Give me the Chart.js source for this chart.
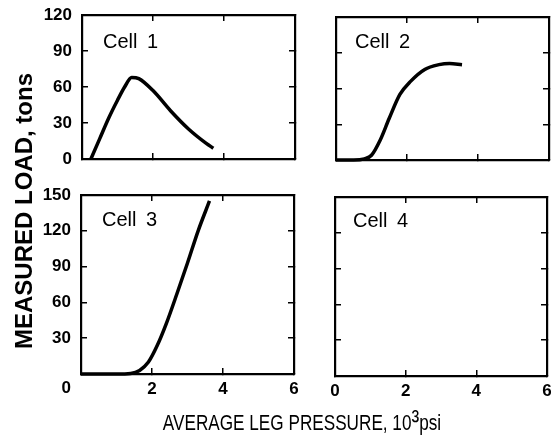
<!DOCTYPE html>
<html><head><meta charset="utf-8">
<script src="https://cdn.jsdelivr.net/npm/chart.js@4.4.1/dist/chart.umd.min.js"></script>
<style>
html,body{margin:0;padding:0;background:#fff;}
#wrap{position:relative;width:551px;height:437px;overflow:hidden;background:#fff;font-family:"Liberation Sans",Arial,sans-serif;color:#000;}
canvas{position:absolute;}
.cell{position:absolute;font-size:20px;line-height:20px;white-space:nowrap;word-spacing:4px;}
#ytitle{position:absolute;left:-126px;top:199px;width:300px;height:24px;line-height:24px;font-size:24px;font-weight:bold;text-align:center;white-space:nowrap;transform:rotate(-90deg);}
#xtitle{position:absolute;left:122px;top:407px;width:360px;height:26px;line-height:26px;font-size:22px;text-align:center;white-space:nowrap;transform:scaleX(0.78);}
#xtitle .sup{font-size:1.35em;}
</style></head><body>
<div id="wrap">
  <canvas id="c1" width="280" height="175" style="left:30px;top:0px"></canvas>
  <canvas id="c2" width="239" height="175" style="left:312px;top:0px"></canvas>
  <canvas id="c3" width="280" height="232" style="left:30px;top:178px"></canvas>
  <canvas id="c4" width="239" height="232" style="left:312px;top:178px"></canvas>
  <div class="cell" style="left:103px;top:31px">Cell 1</div>
  <div class="cell" style="left:355px;top:31px">Cell 2</div>
  <div class="cell" style="left:102px;top:209px">Cell 3</div>
  <div class="cell" style="left:353px;top:210px">Cell 4</div>
  <div id="ytitle">MEASURED LOAD, tons</div>
  <div id="xtitle">AVERAGE LEG PRESSURE, 10<span class="sup">³</span>psi</div>
</div>
<script>
// ---- data ----
const pressureTicks = [0, 2, 4, 6];
const loadTicksUpper = [0, 30, 60, 90, 120];
const loadTicksLower = [0, 30, 60, 90, 120, 150];

const cell1Pressure = [0.25, 0.5, 0.75, 1.0, 1.2, 1.4, 1.6, 2.0, 2.5, 3.0, 3.5, 3.7];
const cell1Load     = [0,    17,  34,   49,  60,  68,  67,  57,  40,  25,  13,  9];

const cell2Pressure = [0, 0.5, 0.8, 1.0, 1.25, 1.5, 1.8, 2.1, 2.5, 2.9, 3.2, 3.55];
const cell2Load     = [0, 0,   1,   4,   17,   35,  55,  66,  76,  80,  81,  80];

const cell3Pressure = [0, 1.0, 1.4, 1.65, 1.9, 2.15, 2.4, 2.7, 3.0, 3.3, 3.62];
const cell3Load     = [0, 0,   0.5, 3,    10,  24,   42,  67,  93,  120, 145];

const cell4Pressure = [];
const cell4Load     = [];

// ---- helpers ----
const FONT = {family: '"Liberation Sans", Arial, sans-serif', size: 17, weight: 'bold'};

function pts(xs, ys) { return xs.map((x, i) => ({x: x, y: ys[i]})); }

function zeroPad(s) { s.paddingTop = 0; s.paddingBottom = 0; s.paddingLeft = 0; s.paddingRight = 0; }

function makePanel(id, o) {
  const yTickList = o.yTicks;
  const yMax = yTickList[yTickList.length - 1];
  const gridCommon = {display: true, drawOnChartArea: false, drawTicks: true, tickLength: -6, color: '#000', lineWidth: 1.5};
  const borderCommon = {display: true, color: '#000', width: 2.2};
  new Chart(document.getElementById(id), {
    type: 'line',
    data: {datasets: [{
      data: pts(o.xs, o.ys),
      borderColor: '#000', borderWidth: 3.5, pointRadius: 0,
      cubicInterpolationMode: 'monotone', fill: false, clip: false
    }]},
    options: {
      responsive: false, animation: false, devicePixelRatio: 1,
      layout: {autoPadding: false, padding: {top: o.padTop, right: o.padRight, left: 0, bottom: 0}},
      plugins: {legend: {display: false}, tooltip: {enabled: false}},
      scales: {
        x: {
          type: 'linear', position: 'bottom', min: pressureTicks[0], max: pressureTicks[pressureTicks.length - 1],
          afterBuildTicks: s => { s.ticks = pressureTicks.map(v => ({value: v})); },
          ticks: {display: o.showX, padding: 11, color: '#000', font: FONT, maxRotation: 0, autoSkip: false,
            callback: v => (o.hideX0 && v === 0) ? '' : String(v)},
          grid: gridCommon, border: borderCommon,
          afterFit: s => { s.height = o.xH; zeroPad(s); }
        },
        x2: {
          type: 'linear', position: 'top', min: pressureTicks[0], max: pressureTicks[pressureTicks.length - 1],
          afterBuildTicks: s => { s.ticks = pressureTicks.map(v => ({value: v})); },
          ticks: {display: false}, grid: gridCommon, border: borderCommon,
          afterFit: s => { s.height = 0; zeroPad(s); }
        },
        y: {
          type: 'linear', position: 'left', min: 0, max: yMax,
          afterBuildTicks: s => { s.ticks = yTickList.map(v => ({value: v})); },
          ticks: {display: o.showY, padding: 16, color: '#000', autoSkip: false,
            font: Object.assign({}, FONT, {lineHeight: 1.7}),
            callback: v => (o.lowZero && v === 0) ? ['', '0'] : String(v)},
          grid: gridCommon, border: borderCommon,
          afterFit: s => { s.width = o.yW; zeroPad(s); }
        },
        y2: {
          type: 'linear', position: 'right', min: 0, max: yMax,
          afterBuildTicks: s => { s.ticks = yTickList.map(v => ({value: v})); },
          ticks: {display: false}, grid: gridCommon, border: borderCommon,
          afterFit: s => { s.width = 0; zeroPad(s); }
        }
      }
    }
  });
}

makePanel('c1', {xs: cell1Pressure, ys: cell1Load, yTicks: loadTicksUpper, showX: false, showY: true,
  yW: 52, xH: 16, padTop: 15, padRight: 15});
makePanel('c2', {xs: cell2Pressure, ys: cell2Load, yTicks: loadTicksUpper, showX: false, showY: false,
  yW: 24, xH: 15, padTop: 17, padRight: 2});
makePanel('c3', {xs: cell3Pressure, ys: cell3Load, yTicks: loadTicksLower, showX: true, showY: true,
  hideX0: true, lowZero: true, yW: 51, xH: 36, padTop: 17, padRight: 16});
makePanel('c4', {xs: cell4Pressure, ys: cell4Load, yTicks: loadTicksLower, showX: true, showY: false,
  yW: 23, xH: 34, padTop: 19, padRight: 4});
</script>
</body></html>
